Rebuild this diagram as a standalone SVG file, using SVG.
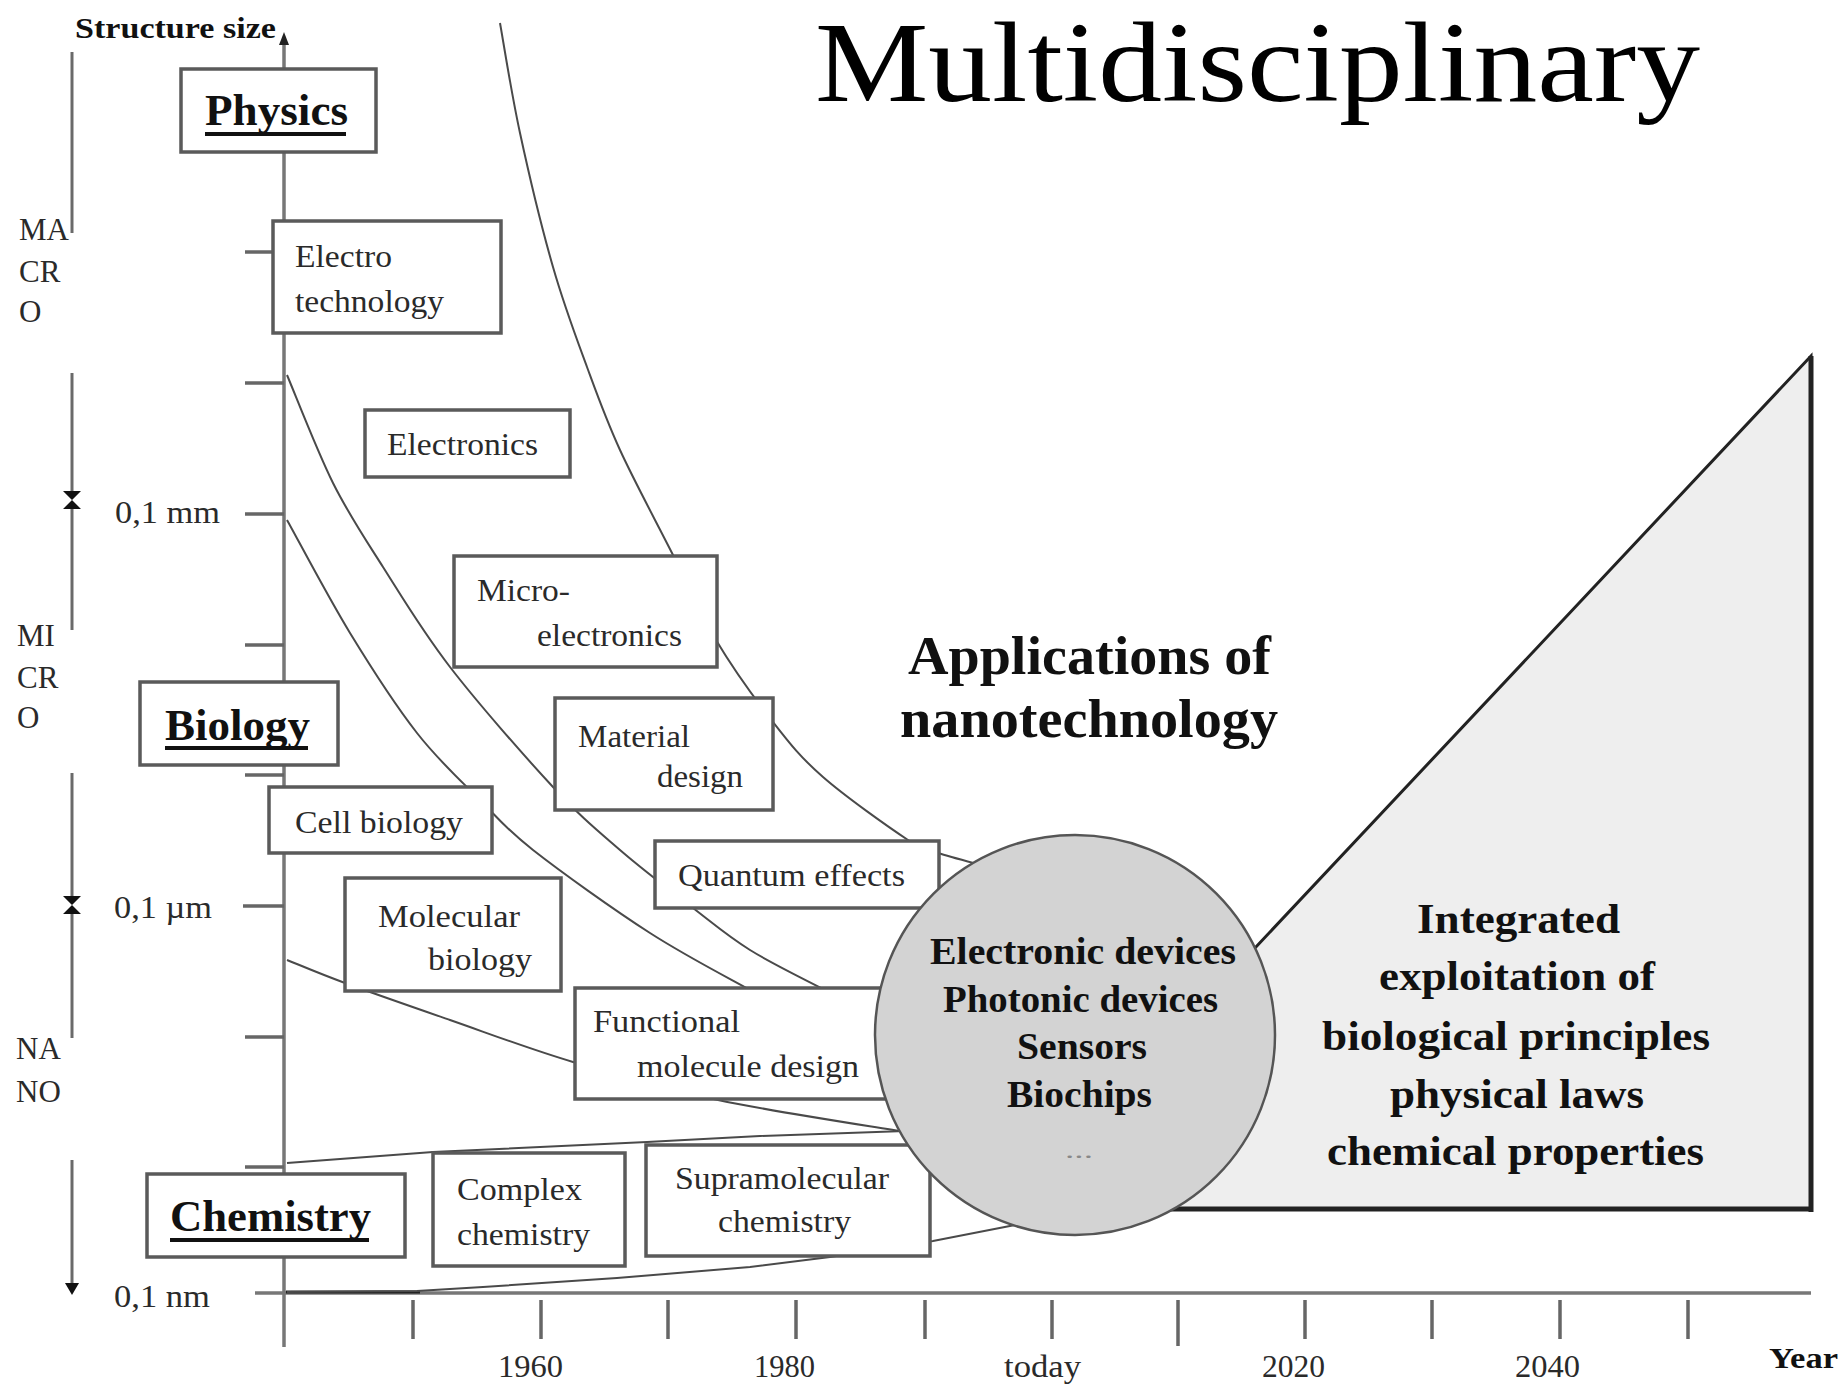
<svg xmlns="http://www.w3.org/2000/svg" width="1842" height="1384" viewBox="0 0 1842 1384">
<style>
.box{fill:#fff;stroke:#5a5a5a;stroke-width:3.5}
.lbl{font-family:"Liberation Serif","Times New Roman",serif;font-size:31px;fill:#2a2a2a}
.bold{font-family:"Liberation Serif","Times New Roman",serif;font-weight:bold;fill:#111}
.curve{fill:none;stroke:#4a4a4a;stroke-width:2}
.axis{fill:none;stroke:#777;stroke-width:3.5}
.tick{stroke:#666;stroke-width:3.5}
.brk{stroke:#6a6a6a;stroke-width:3;fill:none}
.ul{fill:#111}
</style>
<rect width="1842" height="1384" fill="#fff"/>

<g id="title">
<text x="815" y="101" font-family="Liberation Serif, Times New Roman, serif" font-size="114" fill="#000" textLength="885" lengthAdjust="spacingAndGlyphs">Multidisciplinary</text>
</g>

<g id="triangle">
<polygon points="1811,356 1811,1209 1100,1209 1100,1113" fill="#eeeeee" stroke="#222" stroke-width="3"/>
<line x1="1811" y1="356" x2="1811" y2="1212" stroke="#222" stroke-width="5"/>
<line x1="1100" y1="1209" x2="1813" y2="1209" stroke="#222" stroke-width="5"/>
<text class="bold" font-size="42" x="1417" y="933" textLength="203" lengthAdjust="spacingAndGlyphs">Integrated</text>
<text class="bold" font-size="42" x="1379" y="990" textLength="276" lengthAdjust="spacingAndGlyphs">exploitation of</text>
<text class="bold" font-size="42" x="1322" y="1050" textLength="388" lengthAdjust="spacingAndGlyphs">biological principles</text>
<text class="bold" font-size="42" x="1390" y="1108" textLength="254" lengthAdjust="spacingAndGlyphs">physical laws</text>
<text class="bold" font-size="42" x="1327" y="1165" textLength="377" lengthAdjust="spacingAndGlyphs">chemical properties</text>
</g>

<g id="axes">
<line class="axis" x1="284" y1="40" x2="284" y2="1347"/>
<polygon points="284,32 279,45 289,45" fill="#222"/>
<line class="axis" x1="255" y1="1293" x2="1811" y2="1293"/>
<line x1="286" y1="1292" x2="420" y2="1292" stroke="#222" stroke-width="3"/>
<g class="tick">
<line x1="245" y1="252" x2="274" y2="252"/>
<line x1="245" y1="383" x2="284" y2="383"/>
<line x1="245" y1="514" x2="284" y2="514"/>
<line x1="245" y1="645" x2="284" y2="645"/>
<line x1="245" y1="775" x2="284" y2="775"/>
<line x1="243" y1="906" x2="284" y2="906"/>
<line x1="245" y1="1037" x2="284" y2="1037"/>
<line x1="245" y1="1167" x2="284" y2="1167"/>
<line x1="413" y1="1300" x2="413" y2="1339"/>
<line x1="541" y1="1300" x2="541" y2="1339"/>
<line x1="668" y1="1300" x2="668" y2="1339"/>
<line x1="796" y1="1300" x2="796" y2="1339"/>
<line x1="925" y1="1300" x2="925" y2="1339"/>
<line x1="1052" y1="1300" x2="1052" y2="1339"/>
<line x1="1178" y1="1300" x2="1178" y2="1346"/>
<line x1="1305" y1="1300" x2="1305" y2="1339"/>
<line x1="1432" y1="1300" x2="1432" y2="1339"/>
<line x1="1560" y1="1300" x2="1560" y2="1339"/>
<line x1="1688" y1="1300" x2="1688" y2="1339"/>
</g>
<text class="bold" font-size="30" x="75" y="38" textLength="201" lengthAdjust="spacingAndGlyphs">Structure size</text>
<text class="lbl" x="115" y="523" textLength="105" lengthAdjust="spacingAndGlyphs">0,1 mm</text>
<text class="lbl" x="114" y="918" textLength="98" lengthAdjust="spacingAndGlyphs">0,1 µm</text>
<text class="lbl" x="114" y="1307" textLength="96" lengthAdjust="spacingAndGlyphs">0,1 nm</text>
<text class="lbl" x="498" y="1377" textLength="65" lengthAdjust="spacingAndGlyphs">1960</text>
<text class="lbl" x="754" y="1377" textLength="61" lengthAdjust="spacingAndGlyphs">1980</text>
<text class="lbl" x="1004" y="1377" textLength="77" lengthAdjust="spacingAndGlyphs">today</text>
<text class="lbl" x="1262" y="1377" textLength="63" lengthAdjust="spacingAndGlyphs">2020</text>
<text class="lbl" x="1515" y="1377" textLength="65" lengthAdjust="spacingAndGlyphs">2040</text>
<text class="bold" font-size="30" x="1769" y="1368" textLength="69" lengthAdjust="spacingAndGlyphs">Year</text>
</g>

<g id="scale-ranges">
<line class="brk" x1="72" y1="52" x2="72" y2="233"/>
<line class="brk" x1="72" y1="373" x2="72" y2="492"/>
<line class="brk" x1="72" y1="508" x2="72" y2="630"/>
<line class="brk" x1="72" y1="773" x2="72" y2="897"/>
<line class="brk" x1="72" y1="913" x2="72" y2="1038"/>
<line class="brk" x1="72" y1="1160" x2="72" y2="1284"/>
<path d="M63,491 H81 L72,500 Z M63,509 H81 L72,500 Z" fill="#111"/>
<path d="M63,896 H81 L72,905 Z M63,914 H81 L72,905 Z" fill="#111"/>
<polygon points="65,1283 79,1283 72,1295" fill="#111"/>
<text class="lbl" x="19" y="240">MA</text>
<text class="lbl" x="19" y="282">CR</text>
<text class="lbl" x="19" y="322">O</text>
<text class="lbl" x="17" y="646">MI</text>
<text class="lbl" x="17" y="688">CR</text>
<text class="lbl" x="17" y="728">O</text>
<text class="lbl" x="16" y="1059">NA</text>
<text class="lbl" x="16" y="1102">NO</text>
</g>

<g id="connectors">
<path class="curve" d="M500,23 C503.3,41.3 511.2,92.3 520,133 C528.8,173.7 541.8,228 553,267 C564.2,306 575.8,336.5 587,367 C598.2,397.5 605.8,419 620,450 C634.2,481 656,521.3 672,553 C688,584.7 699.2,611.8 716,640 C732.8,668.2 755.2,699.2 773,722 C790.8,744.8 800.5,757.3 823,777 C845.5,796.7 888.8,827.3 908,840 C927.2,852.7 925.2,848.7 938,853 C950.8,857.3 977.2,863.8 985,866"/>
<path class="curve" d="M287,375 C294.7,393 317,451 333,483 C349,515 363.5,536.3 383,567 C402.5,597.7 421.7,630.3 450,667 C478.3,703.7 524.7,756.5 553,787 C581.3,817.5 596.7,829.8 620,850 C643.3,870.2 671.3,891.3 693,908 C714.7,924.7 728,936.3 750,950 C772,963.7 812.5,983.3 825,990"/>
<path class="curve" d="M287,520 C297.5,538.8 328.3,597.5 350,633 C371.7,668.5 395.3,705.2 417,733 C438.7,760.8 460.7,780.5 480,800 C499.3,819.5 504.7,827.8 533,850 C561.3,872.2 613.8,909.7 650,933 C686.2,956.3 733.3,980.5 750,990"/>
<path class="curve" d="M287,960 C296.7,963.8 317.8,973 345,983 C372.2,993 412,1006.8 450,1020 C488,1033.2 528.3,1048.7 573,1062 C617.7,1075.3 662.7,1088.3 718,1100 C773.3,1111.7 873.8,1126.7 905,1132"/>
<path class="curve" stroke-width="2.5" d="M287,1163 L433,1152 L647,1142 L760,1136 L905,1131"/>
<path class="curve" stroke-width="2.5" d="M287,1292 L417,1291 L483,1287 L617,1278 L750,1267 L830,1257 L933,1241 L1015,1225"/>
</g>

<g id="physics">
<rect class="box" x="181" y="69" width="195" height="83"/>
<text class="bold" font-size="44" x="205" y="125" textLength="143" lengthAdjust="spacingAndGlyphs">Physics</text>
<rect class="ul" x="205" y="132" width="141" height="4"/>
</g>
<g id="electrotechnology">
<rect class="box" x="273" y="221" width="228" height="112"/>
<text class="lbl" x="295" y="267" textLength="97" lengthAdjust="spacingAndGlyphs">Electro</text>
<text class="lbl" x="295" y="312" textLength="149" lengthAdjust="spacingAndGlyphs">technology</text>
</g>
<g id="electronics">
<rect class="box" x="365" y="410" width="205" height="67"/>
<text class="lbl" x="387" y="455" textLength="151" lengthAdjust="spacingAndGlyphs">Electronics</text>
</g>
<g id="microelectronics">
<rect class="box" x="454" y="556" width="263" height="111"/>
<text class="lbl" x="477" y="601" textLength="93" lengthAdjust="spacingAndGlyphs">Micro-</text>
<text class="lbl" x="537" y="646" textLength="145" lengthAdjust="spacingAndGlyphs">electronics</text>
</g>
<g id="biology">
<rect class="box" x="140" y="682" width="198" height="83"/>
<text class="bold" font-size="44" x="165" y="740" textLength="145" lengthAdjust="spacingAndGlyphs">Biology</text>
<rect class="ul" x="165" y="746" width="143" height="4"/>
</g>
<g id="material-design">
<rect class="box" x="555" y="698" width="218" height="112"/>
<text class="lbl" x="578" y="747" textLength="112" lengthAdjust="spacingAndGlyphs">Material</text>
<text class="lbl" x="657" y="787" textLength="86" lengthAdjust="spacingAndGlyphs">design</text>
</g>
<g id="cell-biology">
<rect class="box" x="269" y="787" width="223" height="66"/>
<text class="lbl" x="295" y="833" textLength="168" lengthAdjust="spacingAndGlyphs">Cell biology</text>
</g>
<g id="quantum-effects">
<rect class="box" x="655" y="841" width="284" height="67"/>
<text class="lbl" x="678" y="886" textLength="227" lengthAdjust="spacingAndGlyphs">Quantum effects</text>
</g>
<g id="molecular-biology">
<rect class="box" x="345" y="878" width="216" height="113"/>
<text class="lbl" x="378" y="927" textLength="142" lengthAdjust="spacingAndGlyphs">Molecular</text>
<text class="lbl" x="428" y="970" textLength="104" lengthAdjust="spacingAndGlyphs">biology</text>
</g>
<g id="functional-molecule-design">
<rect class="box" x="575" y="988" width="315" height="111"/>
<text class="lbl" x="593" y="1032" textLength="147" lengthAdjust="spacingAndGlyphs">Functional</text>
<text class="lbl" x="637" y="1077" textLength="222" lengthAdjust="spacingAndGlyphs">molecule design</text>
</g>
<g id="chemistry">
<rect class="box" x="147" y="1174" width="258" height="83"/>
<text class="bold" font-size="44" x="170" y="1231" textLength="201" lengthAdjust="spacingAndGlyphs">Chemistry</text>
<rect class="ul" x="170" y="1238" width="199" height="4"/>
</g>
<g id="complex-chemistry">
<rect class="box" x="433" y="1153" width="192" height="113"/>
<text class="lbl" x="457" y="1200" textLength="125" lengthAdjust="spacingAndGlyphs">Complex</text>
<text class="lbl" x="457" y="1245" textLength="133" lengthAdjust="spacingAndGlyphs">chemistry</text>
</g>
<g id="supramolecular-chemistry">
<rect class="box" x="646" y="1145" width="284" height="111"/>
<text class="lbl" x="675" y="1189" textLength="214" lengthAdjust="spacingAndGlyphs">Supramolecular</text>
<text class="lbl" x="718" y="1232" textLength="133" lengthAdjust="spacingAndGlyphs">chemistry</text>
</g>

<g id="applications-label">
<text class="bold" font-size="54" x="908" y="674" textLength="363" lengthAdjust="spacingAndGlyphs">Applications of</text>
<text class="bold" font-size="54" x="900" y="737" textLength="378" lengthAdjust="spacingAndGlyphs">nanotechnology</text>
</g>

<g id="applications-circle">
<circle cx="1075" cy="1035" r="200" fill="#d3d3d3" stroke="#555" stroke-width="2.5"/>
<text class="bold" font-size="38" x="930" y="964" textLength="306" lengthAdjust="spacingAndGlyphs">Electronic devices</text>
<text class="bold" font-size="38" x="943" y="1012" textLength="275" lengthAdjust="spacingAndGlyphs">Photonic devices</text>
<text class="bold" font-size="38" x="1017" y="1059" textLength="130" lengthAdjust="spacingAndGlyphs">Sensors</text>
<text class="bold" font-size="38" x="1007" y="1107" textLength="145" lengthAdjust="spacingAndGlyphs">Biochips</text>
<text x="1065" y="1158" font-family="Liberation Serif, serif" font-size="22" fill="#888" textLength="28" lengthAdjust="spacingAndGlyphs">...</text>
</g>
</svg>
